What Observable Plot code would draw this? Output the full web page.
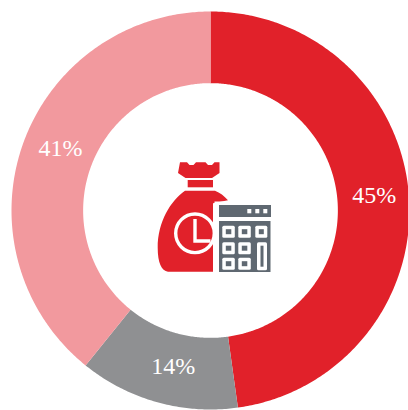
<!DOCTYPE html>
<html><head><meta charset="utf-8">
<script src="https://cdn.jsdelivr.net/npm/d3@7"></script>
<script src="https://cdn.jsdelivr.net/npm/@observablehq/plot@0.6"></script>
<style>html,body{margin:0;padding:0;background:#fff}svg{display:block}</style>
</head><body><div id="chart"></div>
<script>
const categories = ["a", "b", "c"];
const sliceShares = [47.8, 13.0, 39.2];
const labels = ["45%", "14%", "41%"];
const labelX = [0.823, -0.187, -0.754];
const labelY = [0.078, -0.784, 0.312];
const colors = ["#e1212a", "#8f9092", "#f2999e"];
const holeRatio = 0.64;

const pie = d3.pie().sort(null).value(d => d)(sliceShares);
const ringPoints = [];
pie.forEach((s, i) => {
  const n = Math.ceil((s.endAngle - s.startAngle) / 0.01);
  const at = d3.range(n + 1).map(k => s.startAngle + (s.endAngle - s.startAngle) * k / n);
  for (const a of at) ringPoints.push({cat: categories[i], x: Math.sin(a), y: Math.cos(a)});
  for (const a of at.reverse()) ringPoints.push({cat: categories[i], x: holeRatio * Math.sin(a), y: holeRatio * Math.cos(a)});
});
const labelRows = labels.map((label, i) => ({label, x: labelX[i], y: labelY[i]}));

function icon() {
  const ns = "http://www.w3.org/2000/svg";
  const g = document.createElementNS(ns, "g");
  const red = "#e1212a", grey = "#5f6871";
  let h = `
  <path fill="${red}" d="M180 162.300h7l2.500 2.700h4l2.500-2.700h9.500l2.500 2.700h4l2.500-2.700h5v10.700l-7.500 5h-26.500l-7.500-5z"/>
  <rect x="187.700" y="180" width="25.300" height="7.300" fill="${red}"/>
  <path fill="${red}" d="M185 190.700h30c5 2 9 5 13 9.500l-15 3v68.500h-45c-6.500-1-10.300-9-10.300-24 0-26 13-47 27.300-57z"/>
  <circle cx="195" cy="233.300" r="19.300" fill="none" stroke="#fff" stroke-width="3.400"/>
  <path d="M195 219v22h15.500" fill="none" stroke="#fff" stroke-width="3.400"/>
  <rect x="214.500" y="201.500" width="58" height="72" fill="#fff"/>
  <rect x="219" y="205" width="52" height="12" fill="${grey}"/>
  <rect x="219" y="221" width="51.500" height="51" fill="${grey}"/>
  `;
  for (const x of [247.3, 255.3, 263.3]) h += `<rect x="${x}" y="209" width="4" height="4.300" fill="#fff"/>`;
  const btn = (x, y, w, hh) => `<rect x="${x}" y="${y}" width="${w}" height="${hh}" rx="1.500" fill="#fff"/><rect x="${x+3.5}" y="${y+3.5}" width="${w-7}" height="${hh-7}" fill="${grey}"/>`;
  for (const y of [225.7, 242.2, 257.7]) for (const x of [222.3, 238.3]) h += btn(x, y, 12.5, 12);
  h += btn(255.3, 225.7, 12, 12);
  h += btn(257, 242.2, 10, 28);
  g.innerHTML = h;
  return g;
}

const chart = Plot.plot({
  width: 408, height: 410,
  margin: 0,
  x: {domain: [-1, 1], range: [11, 409], axis: null},
  y: {domain: [-1, 1], range: [409, 11], axis: null},
  color: {domain: categories, range: colors},
  marks: [
    Plot.line(ringPoints, {x: "x", y: "y", z: "cat", fill: "cat", stroke: null}),
    Plot.text(labelRows, {x: "x", y: "y", text: "label", fill: "#fff", fontSize: 24, fontFamily: "Liberation Serif"}),
    icon
  ]
});
document.getElementById("chart").append(chart);
</script></body></html>
